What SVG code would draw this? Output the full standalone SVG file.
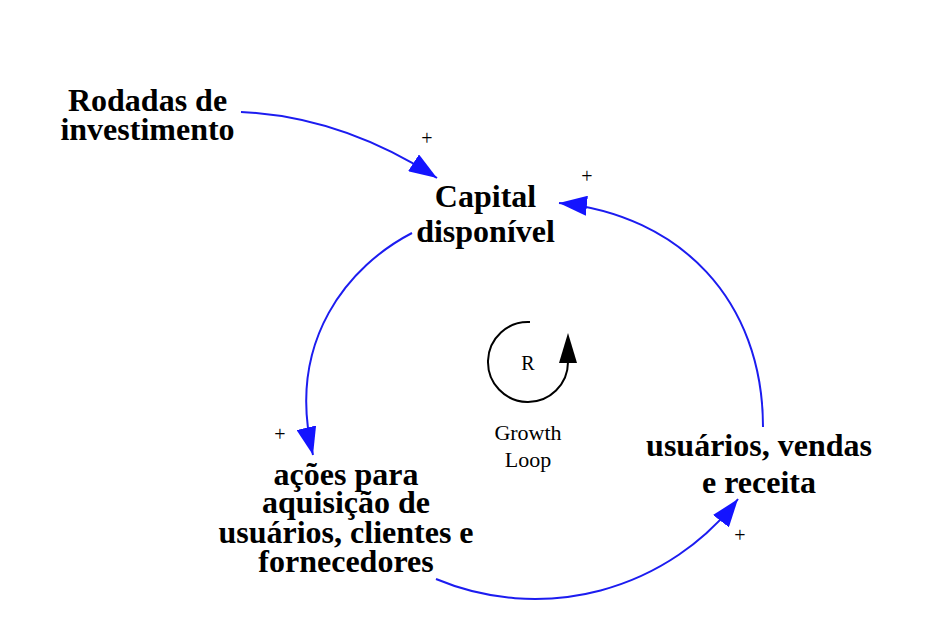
<svg xmlns="http://www.w3.org/2000/svg" width="934" height="644" viewBox="0 0 934 644">
<style>
.node{font-family:"Liberation Serif","Times New Roman",serif;font-weight:bold;font-size:32px;fill:#000;text-anchor:middle}
.sign{font-family:"Liberation Serif","Times New Roman",serif;font-size:20px;fill:#000;text-anchor:middle}
.loop{font-family:"Liberation Serif","Times New Roman",serif;font-size:22px;fill:#000;text-anchor:middle}
.link{fill:none;stroke:#1c1cf0;stroke-width:2;marker-end:url(#ah)}
</style>
<defs>
<marker id="ah" markerUnits="userSpaceOnUse" markerWidth="28" markerHeight="20" refX="28" refY="10" orient="auto" viewBox="0 0 28 20">
<path d="M0,0 L28,10 L0,20 Z" fill="#1414ff"/>
</marker>
</defs>
<rect width="934" height="644" fill="#fff"/>
<g id="connectors">
<path class="link" d="M241,112 Q343,117 437,178"/>
<path class="link" d="M412,233 C350,265 285,340 313,455"/>
<path class="link" d="M436,579 A256,256 0 0,0 738,499"/>
<path class="link" d="M763,427 C763,300 680,215 559,203"/>
</g>
<g id="signs">
<text class="sign" x="427" y="145">+</text>
<text class="sign" x="587" y="183">+</text>
<text class="sign" x="280" y="441">+</text>
<text class="sign" x="740" y="542">+</text>
</g>
<g id="loop-R">
<path d="M530,322 A40,40 0 1,0 568,362" fill="none" stroke="#000" stroke-width="2"/>
<polygon points="568,333 559,363 577,363" fill="#000"/>
<text x="528" y="370" style="font-family:'Liberation Serif','Times New Roman',serif;font-size:20px;text-anchor:middle">R</text>
<text class="loop" x="528" y="440">Growth</text>
<text class="loop" x="528" y="467">Loop</text>
</g>
<g id="node-rodadas">
<text class="node" x="147.5" y="111">Rodadas de</text>
<text class="node" x="147.5" y="140">investimento</text>
</g>
<g id="node-capital">
<text class="node" x="485.5" y="207">Capital</text>
<text class="node" x="485.5" y="242">disponível</text>
</g>
<g id="node-acoes">
<text class="node" x="346" y="485">ações para</text>
<text class="node" x="346" y="513">aquisição de</text>
<text class="node" x="346" y="543">usuários, clientes e</text>
<text class="node" x="346" y="572">fornecedores</text>
</g>
<g id="node-usuarios">
<text class="node" x="759" y="456">usuários, vendas</text>
<text class="node" x="759" y="493">e receita</text>
</g>
</svg>
